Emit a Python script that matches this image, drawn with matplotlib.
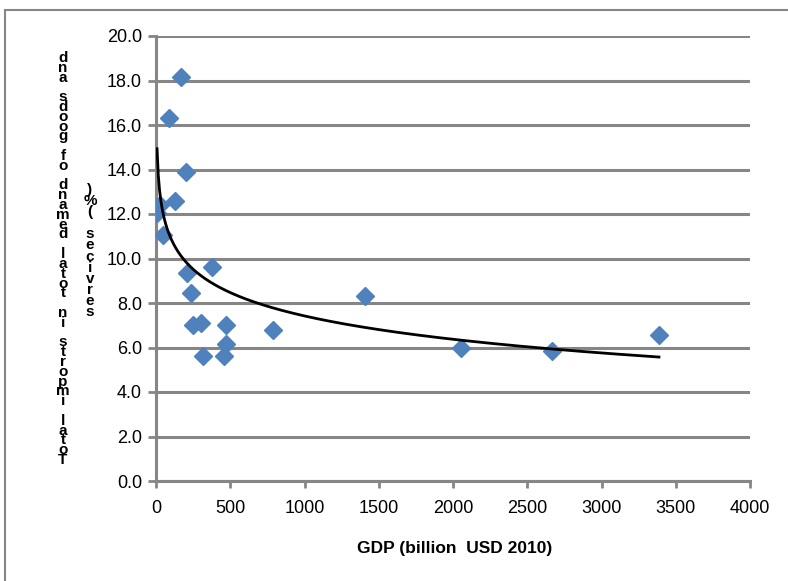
import numpy as np
import matplotlib
matplotlib.use("Agg")
import matplotlib.pyplot as plt
from matplotlib.patches import Rectangle

# values
gdp = [168, 88, 202, 128, 7, 27, 47, 209, 377, 236, 249, 303, 471, 471,
       316, 458, 788, 1407, 2054, 2667, 3387]
share = [18.15, 16.3, 13.9, 12.6, 12.05, 12.4, 11.07, 9.35, 9.64, 8.44, 7.0,
         7.1, 7.0, 6.16, 5.63, 5.63, 6.79, 8.3, 5.98, 5.85, 6.56]

x_ticks = [0, 500, 1000, 1500, 2000, 2500, 3000, 3500, 4000]
y_ticks = [0, 2, 4, 6, 8, 10, 12, 14, 16, 18, 20]

x_label = "GDP (billion  USD 2010)"
y_label_1 = "Total imports in total demand of goods and"
y_label_2 = "services (%)"

W, H = 788, 581
plt.rcParams['font.family'] = ['Liberation Sans Narrow', 'Liberation Sans', 'DejaVu Sans']
grey = "#868686"

fig = plt.figure(figsize=(W / 100, H / 100), dpi=100)
ax = fig.add_axes([156 / W, 1 - 481 / H, (750 - 156) / W, (481 - 36) / H])

# logarithmic trendline fitted on the data, drawn over the data range
gdp_arr = np.array(gdp, dtype=float)
a, b = np.polyfit(np.log(gdp_arr), np.array(share), 1)
xs = np.linspace(gdp_arr.min(), gdp_arr.max(), 400)

ax.plot(gdp, share, linestyle="none", marker="D", markersize=9.5,
        color="#4F81BD", markeredgecolor="#4F81BD", zorder=3)
ax.plot(xs, a * np.log(xs) + b, color="black", lw=2, zorder=4)

ax.set_xlim(0, 4000)
ax.set_ylim(0, 20)
ax.set_xticks(x_ticks)
ax.set_yticks(y_ticks)
ax.set_yticklabels([f"{v:.1f}" for v in y_ticks])
ax.yaxis.grid(True, color=grey, lw=2.2)
ax.set_axisbelow(True)
for side in ["top", "right"]:
    ax.spines[side].set_visible(False)
for side in ["left", "bottom"]:
    ax.spines[side].set_color(grey)
    ax.spines[side].set_linewidth(2.2)
ax.tick_params(axis="both", colors=grey, width=2, labelcolor="black", labelsize=13)
ax.tick_params(axis="y", length=6, pad=4)
ax.tick_params(axis="x", length=5, pad=9)

fig.text(455 / W, 1 - 548 / H, x_label, ha="center", va="center",
         fontsize=12.5, fontweight="bold")

# stacked vertical y label, as the reference draws it (letters packed tight)
col1 = y_label_1[::-1]
step1 = (460 - 58) / (len(col1) - 1)
for i, ch in enumerate(col1):
    fig.text(63 / W, 1 - (58 + i * step1) / H, ch, ha="center", va="center",
             fontsize=11, fontweight="bold")
col2 = y_label_2[::-1]
step2 = (312 - 190) / (len(col2) - 1)
for i, ch in enumerate(col2):
    fig.text(90 / W, 1 - (190 + i * step2) / H, ch, ha="center", va="center",
             fontsize=11, fontweight="bold")

fig.patches.append(Rectangle((5 / W, -0.05), 1.1, 1 - 10 / H + 0.05,
                             transform=fig.transFigure, fill=False,
                             edgecolor=grey, lw=1.5))

fig.savefig("out.png", dpi=100)
